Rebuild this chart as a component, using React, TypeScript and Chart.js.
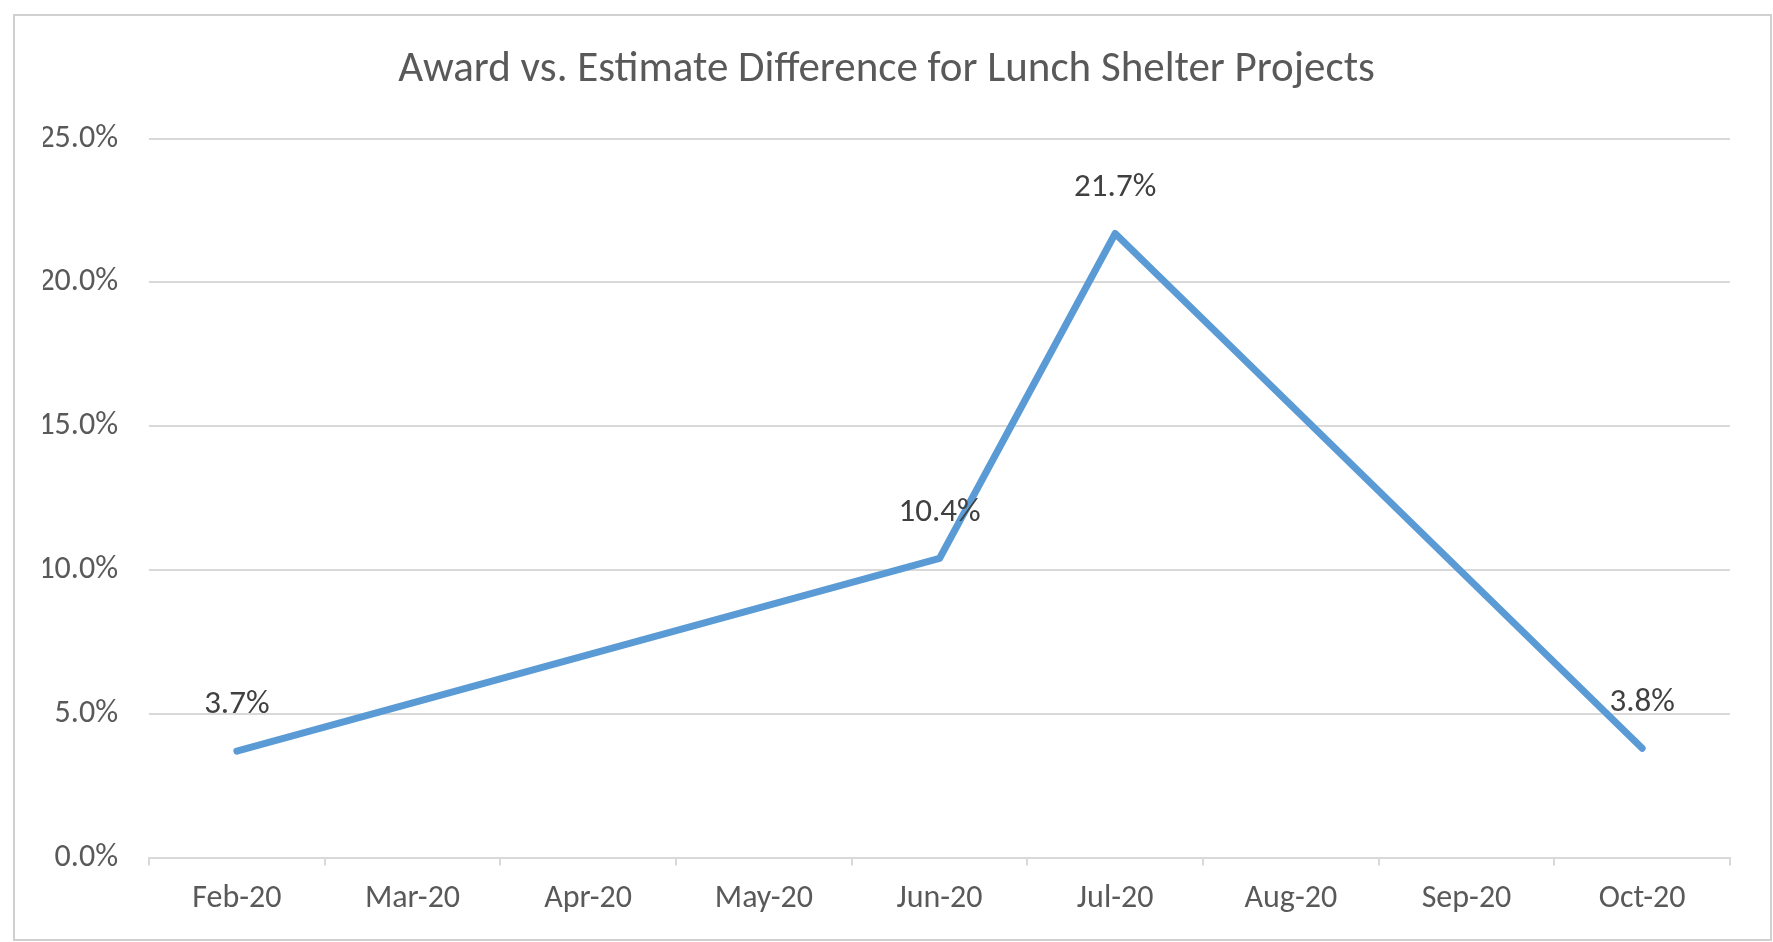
import React, { useEffect, useRef } from "react";
import { Chart, registerables } from "chart.js";

Chart.register(...registerables);

const categories = ["Feb-20", "Mar-20", "Apr-20", "May-20", "Jun-20", "Jul-20", "Aug-20", "Sep-20", "Oct-20"];
const differencePct: (number | null)[] = [3.7, null, null, null, 10.4, 21.7, null, null, 3.8];
const yTicks = [0, 5, 10, 15, 20, 25];
const titleText = "Award vs. Estimate Difference for Lunch Shelter Projects";

const FONT = "Calibri, Carlito, Lato, sans-serif";

const dataLabelPlugin = {
  id: "dataLabels",
  afterDatasetsDraw(chart: any) {
    const ctx = chart.ctx;
    const meta = chart.getDatasetMeta(0);
    ctx.save();
    ctx.font = `33px ${FONT}`;
    ctx.fillStyle = "#404040";
    ctx.textAlign = "center";
    ctx.textBaseline = "middle";
    meta.data.forEach((pt: any, i: number) => {
      const v = differencePct[i];
      if (v === null || v === undefined) return;
      ctx.fillText(v.toFixed(1) + "%", pt.x, pt.y - 46);
    });
    ctx.restore();
  },
};

export default function App() {
  const ref = useRef<HTMLCanvasElement | null>(null);
  useEffect(() => {
    if (!ref.current) return;
    const chart = new Chart(ref.current, {
      type: "line",
      data: {
        labels: categories,
        datasets: [
          {
            data: differencePct,
            borderColor: "#5B9BD5",
            borderWidth: 7,
            pointRadius: 0,
            pointHoverRadius: 0,
            spanGaps: true,
            tension: 0,
            borderJoinStyle: "round",
            borderCapStyle: "round",
            fill: false,
          },
        ],
      },
      options: {
        responsive: false,
        animation: false,
        layout: { padding: { left: 43, right: 43, top: 0, bottom: 10 } },
        plugins: {
          legend: { display: false },
          tooltip: { enabled: false },
          title: {
            display: true,
            text: titleText,
            color: "#595959",
            font: { family: FONT, size: 43, weight: "normal" },
            padding: { top: 44, bottom: 43 },
          },
        },
        scales: {
          x: {
            offset: true,
            grid: {
              offset: true,
              drawOnChartArea: false,
              drawTicks: true,
              tickLength: 8,
              color: "#D9D9D9",
              lineWidth: 2,
            },
            border: { display: true, color: "#D9D9D9", width: 2 },
            ticks: {
              color: "#595959",
              padding: 14,
              font: { family: FONT, size: 32 },
              maxRotation: 0,
              autoSkip: false,
            },
          },
          y: {
            min: 0,
            max: 25,
            afterBuildTicks(scale: any) {
              scale.ticks = yTicks.map((v) => ({ value: v }));
            },
            afterFit(scale: any) {
              scale.width = 106;
            },
            grid: { color: "#D9D9D9", lineWidth: 2, drawTicks: false },
            border: { display: false },
            ticks: {
              color: "#595959",
              padding: 31,
              font: { family: FONT, size: 32 },
              callback: (v: any) => Number(v).toFixed(1) + "%",
            },
          },
        },
      },
      plugins: [dataLabelPlugin],
    });
    return () => chart.destroy();
  }, []);

  return (
    <div style={{ position: "fixed", left: 0, top: 0, width: 1773, height: 942, background: "#ffffff" }}>
      <canvas ref={ref} width={1773} height={942} style={{ position: "absolute", left: 0, top: 0 }} />
      <div
        style={{
          position: "absolute",
          left: 13,
          top: 14,
          width: 1755,
          height: 923,
          border: "2px solid #D0D0D0",
          pointerEvents: "none",
        }}
      />
    </div>
  );
}
